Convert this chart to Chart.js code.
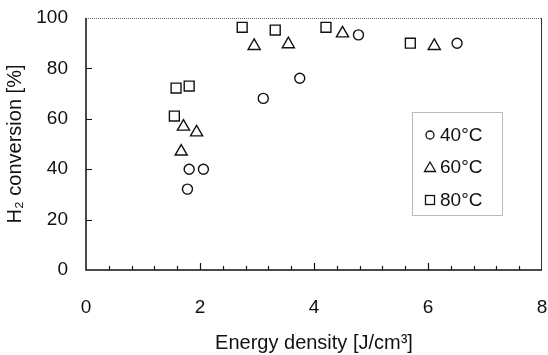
<!DOCTYPE html>
<html>
<head>
<meta charset="utf-8">
<script src="https://cdn.jsdelivr.net/npm/chart.js@4.4.1/dist/chart.umd.min.js"></script>
<style>
html,body{margin:0;padding:0;background:#fff;}
#wrap{width:548px;height:355px;position:relative;}
</style>
</head>
<body>
<div id="wrap"><canvas id="c" width="548" height="355"></canvas></div>
<script>
// Data
const seriesNames = ['40\u00B0C', '60\u00B0C', '80\u00B0C'];
const x40 = [1.78, 1.81, 2.06, 3.11, 3.75, 4.78, 6.51];
const y40 = [32.1, 40.0, 40.0, 68.1, 76.1, 93.3, 90.0];
const x60 = [1.67, 1.71, 1.94, 2.95, 3.55, 4.50, 6.11];
const y60 = [47.0, 56.9, 54.6, 88.9, 89.6, 93.9, 88.9];
const x80 = [1.55, 1.58, 1.81, 2.74, 3.32, 4.21, 5.69];
const y80 = [61.1, 72.2, 73.0, 96.3, 95.2, 96.3, 90.0];
const xTicks = [0, 2, 4, 6, 8];
const yTicks = [0, 20, 40, 60, 80, 100];

function pts(xs, ys){ return xs.map((v,i)=>({x:v, y:ys[i]})); }

const tickFont = {family:"'Liberation Sans','DejaVu Sans',sans-serif", size:19};
const titleFont = {family:"'Liberation Sans','DejaVu Sans',sans-serif", size:20};

const framePlugin = {
  id:'frame',
  beforeDatasetsDraw(chart){
    const {ctx, chartArea:a, scales:{x, y}} = chart;
    ctx.save();
    ctx.strokeStyle = '#666';
    ctx.lineWidth = 1;
    ctx.setLineDash([1,1]);
    ctx.beginPath();
    ctx.moveTo(a.left, a.top+0.5); ctx.lineTo(a.right, a.top+0.5);
    ctx.stroke();
    ctx.setLineDash([]);
    ctx.strokeStyle = '#333';
    ctx.beginPath();
    ctx.moveTo(a.right-0.5, a.top); ctx.lineTo(a.right-0.5, a.bottom);
    ctx.stroke();
    ctx.strokeStyle = '#111';
    ctx.lineWidth = 1.5;
    ctx.beginPath();
    ctx.moveTo(a.left, a.top); ctx.lineTo(a.left, a.bottom); ctx.lineTo(a.right, a.bottom);
    ctx.stroke();
    ctx.lineWidth = 1.2;
    ctx.beginPath();
    for (let v = 20; v < 100; v += 20){
      const py = Math.round(y.getPixelForValue(v)) + 0.5;
      ctx.moveTo(a.left, py); ctx.lineTo(a.left+6, py);
    }
    for (let k = 1; k < 20; k++){
      const v = k*0.4;
      const px = Math.round(x.getPixelForValue(v)) + 0.5;
      const major = (k % 5 === 0);
      ctx.moveTo(px, a.bottom); ctx.lineTo(px, a.bottom - (major ? 7 : 4));
    }
    ctx.stroke();
    ctx.restore();
  },
  afterDatasetsDraw(chart){
    const {ctx, chartArea:a} = chart;
    ctx.save();
    const bx = a.left + 326, by = a.top + 94, bw = 90, bh = 103;
    ctx.fillStyle = '#fff';
    ctx.fillRect(bx, by, bw, bh);
    ctx.strokeStyle = '#777';
    ctx.lineWidth = 1;
    ctx.setLineDash([1,1]);
    ctx.strokeRect(bx+0.5, by+0.5, bw, bh);
    ctx.setLineDash([]);
    const rows = [by+23, by+55, by+88];
    const mx = bx + 18;
    ctx.strokeStyle = '#111';
    ctx.lineWidth = 1.3;
    ctx.beginPath(); ctx.arc(mx, rows[0], 4, 0, Math.PI*2); ctx.stroke();
    ctx.beginPath();
    ctx.moveTo(mx, rows[1]-5); ctx.lineTo(mx+5.5, rows[1]+4.5); ctx.lineTo(mx-5.5, rows[1]+4.5); ctx.closePath(); ctx.stroke();
    ctx.strokeRect(mx-4.5, rows[2]-4.5, 9, 9);
    ctx.fillStyle = '#111';
    ctx.font = "19px 'Liberation Sans','DejaVu Sans',sans-serif";
    ctx.textBaseline = 'middle';
    ctx.textAlign = 'left';
    seriesNames.forEach((n,i)=>{ ctx.fillText(n, bx+28, rows[i]+1); });
    ctx.restore();
  }
};

const common = {showLine:false, borderColor:'#111', backgroundColor:'rgba(0,0,0,0)', borderWidth:1.4, pointHoverRadius:0};

function zeroPad(s){ s.paddingLeft = 0; s.paddingRight = 0; s.paddingTop = 0; s.paddingBottom = 0; }

new Chart(document.getElementById('c'), {
  type:'scatter',
  data:{
    datasets:[
      Object.assign({label:seriesNames[0], data:pts(x40,y40), pointStyle:'circle', pointRadius:5}, common),
      Object.assign({label:seriesNames[1], data:pts(x60,y60), pointStyle:'triangle', pointRadius:7}, common),
      Object.assign({label:seriesNames[2], data:pts(x80,y80), pointStyle:'rect', pointRadius:7}, common)
    ]
  },
  options:{
    responsive:false,
    animation:false,
    events:[],
    layout:{padding:{top:18, right:6, left:0, bottom:0}, autoPadding:false},
    plugins:{legend:{display:false}, tooltip:{enabled:false}},
    scales:{
      x:{
        type:'linear', min:0, max:8,
        afterBuildTicks(s){ s.ticks = xTicks.map(v=>({value:v})); },
        afterFit(s){ s.height = 85; zeroPad(s); },
        grid:{display:false, drawTicks:false},
        border:{display:false},
        ticks:{font:tickFont, color:'#111', padding:26, maxRotation:0},
        title:{display:true, text:'Energy density [J/cm\u00B3]', font:titleFont, color:'#111', padding:{top:0, bottom:0}}
      },
      y:{
        type:'linear', min:0, max:100,
        afterBuildTicks(s){ s.ticks = yTicks.map(v=>({value:v})); },
        afterFit(s){ s.width = 86; zeroPad(s); },
        grid:{display:false, drawTicks:false},
        border:{display:false},
        ticks:{font:tickFont, color:'#111', padding:18},
        title:{display:true, text:'H\u2082 conversion [%]', font:titleFont, color:'#111', padding:{top:3, bottom:0}}
      }
    }
  },
  plugins:[framePlugin]
});
</script>
</body>
</html>
